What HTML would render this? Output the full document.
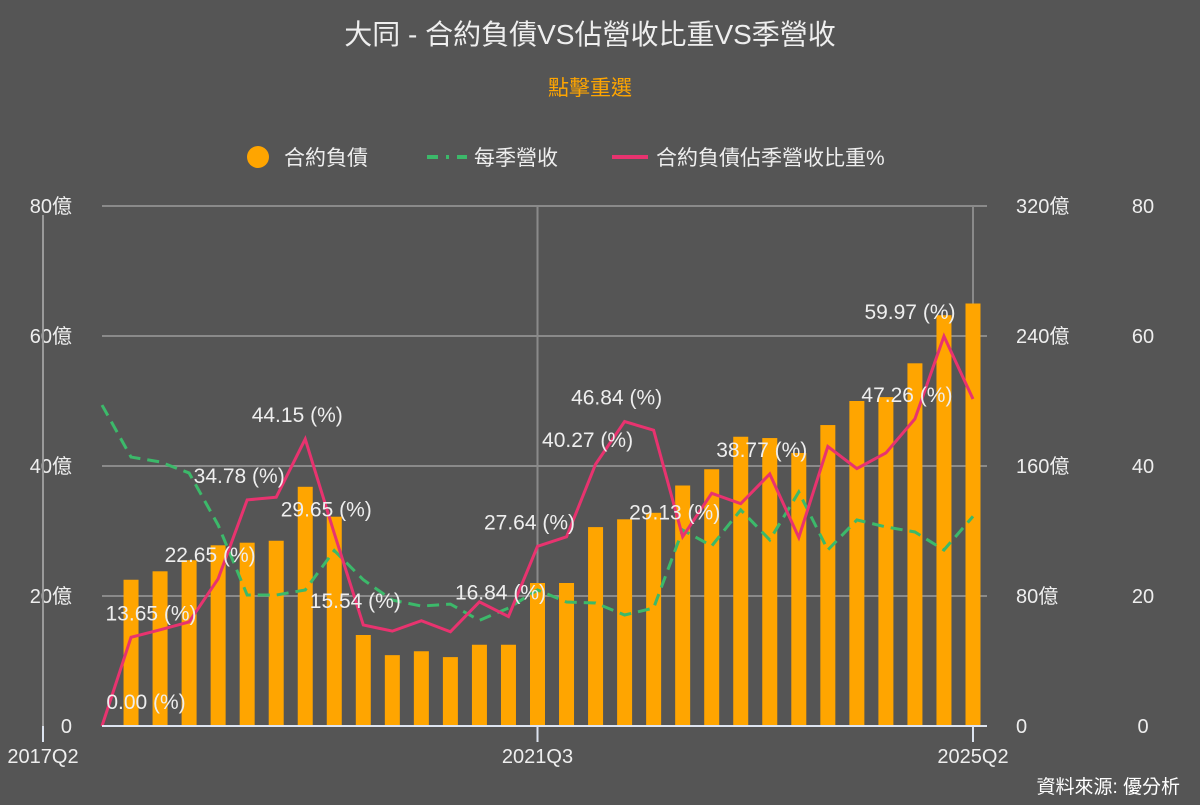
<!DOCTYPE html>
<html><head><meta charset="utf-8"><style>
body{margin:0;background:#555555;}
svg text{font-family:"Liberation Sans","Noto Sans CJK TC",sans-serif;}
</style></head><body>
<svg id="chart" width="1200" height="800" xmlns="http://www.w3.org/2000/svg">
<rect width="1200" height="800" fill="#555555"/>
<text x="590" y="44" text-anchor="middle" font-size="28" fill="#eeeeee">大同 - 合約負債VS佔營收比重VS季營收</text>
<text x="590" y="95" text-anchor="middle" font-size="21" fill="#ffa500">點擊重選</text>
<g>
<g><circle cx="258" cy="157" r="11" fill="#ffa500"/><text x="284" y="165" font-size="21" fill="#eeeeee">合約負債</text></g>
<g><line x1="427" y1="157" x2="467" y2="157" stroke="#3cb96a" stroke-width="4" stroke-dasharray="11,8,3,8"/><text x="474" y="165" font-size="21" fill="#eeeeee">每季營收</text></g>
<g><line x1="612" y1="157" x2="648" y2="157" stroke="#e8336f" stroke-width="4"/><text x="656" y="165" font-size="21" fill="#eeeeee">合約負債佔季營收比重%</text></g>
</g>
<g id="grid"></g><g id="bars"></g><g id="lines"></g><g id="axes"></g><g id="labels"></g>
<text x="1180" y="793" text-anchor="end" font-size="19" fill="#ffffff">資料來源: 優分析</text>
</svg>
<script>
const liability=[0,22.5,23.8,25.5,27.8,28.2,28.5,36.8,32.2,14,10.9,11.5,10.6,12.5,12.5,22,22,30.6,31.8,32.8,37,39.5,44.5,44.3,42,46.3,50,50.6,55.8,63.2,65];
const revenue=[197.5,165.5,162.5,155.7,123.7,80.6,80.6,83.7,108,90,77.5,73.8,75,65,72.6,83.7,76.3,75.7,68.3,72.6,120.6,110.8,133,114.5,144,108.3,126.8,122.5,119.4,108.3,129];
const ratio=[0,13.65,14.8,16,22.65,34.78,35.2,44.15,29.65,15.54,14.6,16.2,14.5,19.1,16.84,27.64,29.1,40.27,46.84,45.5,29.13,35.8,34.2,38.77,29,43,39.6,42,47.26,59.97,50.3];
const labelIdx=[0,1,4,5,7,8,9,14,15,17,18,20,23,28,29];
const xLabels=[[0,"2017Q2"],[15,"2021Q3"],[30,"2025Q2"]];
const leftTicks=[0,20,40,60,80];
const midTicks=[0,80,160,240,320];
const rightTicks=[0,20,40,60,80];
const NS="http://www.w3.org/2000/svg";
const X0=102,X1=973,Y0=726,Y1=206;
const xs=i=>X0+(X1-X0)*i/(liability.length-1);
const yL=v=>Y0-(Y0-Y1)*v/80;
const yM=v=>Y0-(Y0-Y1)*v/320;
function mk(t,a,p){const e=document.createElementNS(NS,t);for(const k in a)e.setAttribute(k,a[k]);document.getElementById(p).appendChild(e);return e;}
leftTicks.forEach((v,i)=>{
 if(v>0){const g=mk('line',{x1:X0,x2:987,y1:yL(v),y2:yL(v),stroke:'#8a8a8a','stroke-width':2},'grid');
 
 }
 const t=mk('text',{x:72,y:yL(v)+7,'text-anchor':'end','font-size':20,fill:'#eeeeee'},'axes');t.textContent=v+(v?'億':'');
 
 
 const m=mk('text',{x:1016,y:yM(midTicks[i])+7,'font-size':20,fill:'#eeeeee'},'axes');m.textContent=midTicks[i]+(midTicks[i]?'億':'');
 
 
 const r=mk('text',{x:1143,y:yL(rightTicks[i])+7,'text-anchor':'middle','font-size':20,fill:'#eeeeee'},'axes');r.textContent=rightTicks[i];
 
 
});
[15,30].forEach(i=>{const g=mk('line',{x1:xs(i),x2:xs(i),y1:206,y2:Y0,stroke:'#8a8a8a','stroke-width':2},'grid');
 
 });
const la=mk('line',{x1:43,x2:43,y1:215,y2:742,stroke:'#9a9a9a','stroke-width':2},'axes');


liability.forEach((v,i)=>{const b=mk('rect',{x:xs(i)-7.5,y:yL(v),width:15,height:Y0-yL(v),fill:'#ffa500'},'bars');
 
 });
const xa=mk('line',{x1:X0,x2:987,y1:Y0,y2:Y0,stroke:'#dde4f0','stroke-width':2},'axes');


xLabels.forEach(([i,s])=>{const tx=i===0?43:xs(i);
 const tk=mk('line',{x1:tx,x2:tx,y1:Y0,y2:742,stroke:'#dde4f0','stroke-width':2},'axes');
 
 
 const t=mk('text',{x:tx,y:763,'text-anchor':'middle','font-size':20,fill:'#eeeeee'},'axes');t.textContent=s;
 
 });
const rev=mk('polyline',{points:revenue.map((v,i)=>xs(i)+','+yM(v)).join(' '),fill:'none',stroke:'#3cb96a','stroke-width':3,'stroke-dasharray':'12,7'},'lines');


const rat=mk('polyline',{points:ratio.map((v,i)=>xs(i)+','+yL(v)).join(' '),fill:'none',stroke:'#e8336f','stroke-width':3},'lines');


labelIdx.forEach(i=>{
 const off=i===0?44:(i===1?20:(i===29?-34:-8));
 const t=mk('text',{x:xs(i)+off,y:yL(ratio[i])-17,'text-anchor':'middle','font-size':21,fill:'#eeeeee'},'labels');
 t.textContent=ratio[i].toFixed(2)+' (%)';
 
 });
</script>
</body></html>
